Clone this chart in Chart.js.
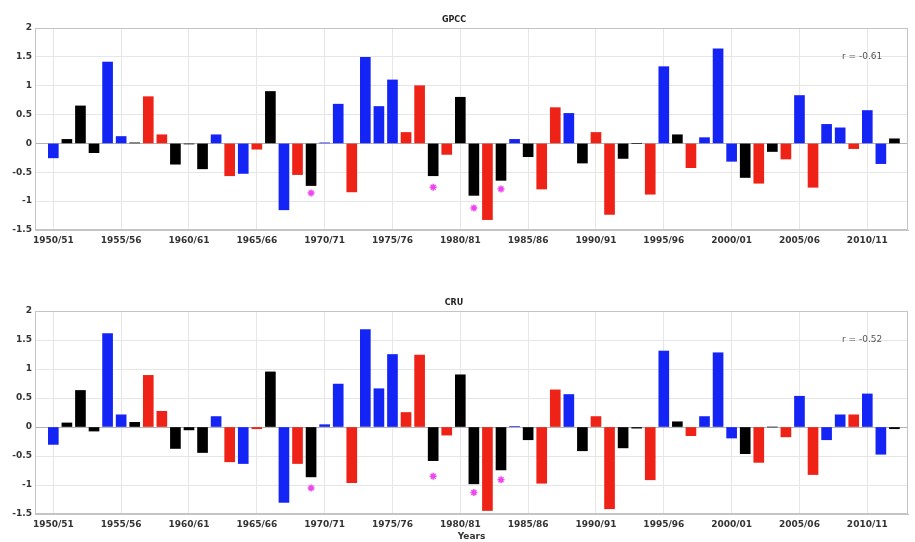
<!DOCTYPE html>
<html>
<head>
<meta charset="utf-8">
<script src="https://cdn.jsdelivr.net/npm/chart.js@4"></script>
<style>
  body { margin: 0; background: #fff; }
  canvas { position: absolute; left: 0; }
</style>
</head>
<body>
<canvas id="gpcc" width="915" height="262" style="top:0"></canvas>
<canvas id="cru" width="915" height="262" style="top:280px"></canvas>
<script>
// season index 0 = 1950/51
const firstSeason = 1950

// L = blue, N = black, E = red
const phase = [
  'L','N','N','N','L','L','N','E','E','N',
  'N','N','L','E','L','E','N','L','E','N',
  'L','L','E','L','L','L','E','E','N','E',
  'N','N','E','N','L','N','E','E','L','N',
  'E','E','N','N','E','L','N','E','L','L',
  'L','N','E','N','E','L','E','L','L','E',
  'L','L','N'
]

const gpccValues = [
  -0.25, 0.07, 0.65, -0.16, 1.41, 0.12, 0.01, 0.81, 0.15, -0.36,
  -0.01, -0.44, 0.15, -0.56, -0.52, -0.10, 0.90, -1.15, -0.54, -0.73,
  0.01, 0.68, -0.84, 1.49, 0.64, 1.10, 0.19, 1.00, -0.56, -0.19,
  0.80, -0.90, -1.32, -0.64, 0.07, -0.23, -0.79, 0.62, 0.52, -0.34,
  0.19, -1.23, -0.26, 0.00, -0.88, 1.33, 0.15, -0.42, 0.10, 1.64,
  -0.31, -0.59, -0.69, -0.14, -0.27, 0.83, -0.76, 0.33, 0.27, -0.09,
  0.57, -0.35, 0.08
]

const cruValues = [
  -0.30, 0.07, 0.63, -0.07, 1.61, 0.21, 0.08, 0.89, 0.27, -0.37,
  -0.05, -0.44, 0.18, -0.60, -0.63, -0.03, 0.95, -1.30, -0.63, -0.86,
  0.04, 0.74, -0.96, 1.68, 0.66, 1.25, 0.25, 1.24, -0.58, -0.14,
  0.90, -0.98, -1.44, -0.74, 0.01, -0.22, -0.97, 0.64, 0.56, -0.41,
  0.18, -1.41, -0.36, -0.02, -0.91, 1.31, 0.09, -0.15, 0.18, 1.28,
  -0.19, -0.46, -0.61, 0.00, -0.17, 0.53, -0.82, -0.22, 0.21, 0.21,
  0.57, -0.47, -0.03
]

// magenta asterisks
const starSeasons = [1969, 1978, 1981, 1983]
const gpccStars = [-0.86, -0.76, -1.12, -0.79]
const cruStars = [-1.05, -0.85, -1.13, -0.91]

const tickLabels = ['1950/51', '1955/56', '1960/61', '1965/66', '1970/71', '1975/76',
  '1980/81', '1985/86', '1990/91', '1995/96', '2000/01', '2005/06', '2010/11']

const phaseColors = { L: 'rgb(20,36,245)', N: '#000000', E: 'rgb(238,34,22)' }
const gridColor = '#e6e6e6'
const tickFont = { family: 'DejaVu Sans', size: 9, weight: 'bold' }

const frame = {
  id: 'frame',
  afterDraw(chart) {
    const a = chart.chartArea
    const ctx = chart.ctx
    ctx.save()
    ctx.strokeStyle = '#c4c4c4'
    ctx.lineWidth = 1
    ctx.strokeRect(a.left + 0.5, a.top + 0.5, a.right - a.left - 1, a.bottom - a.top - 1)
    ctx.restore()
  }
}

const corrLabel = {
  id: 'corrLabel',
  afterDatasetsDraw(chart, args, opts) {
    const ctx = chart.ctx
    ctx.save()
    ctx.font = '9px "DejaVu Sans"'
    ctx.fillStyle = '#555'
    ctx.textAlign = 'right'
    ctx.textBaseline = 'middle'
    ctx.fillText(opts.text, chart.scales.x.getPixelForValue(opts.x), chart.scales.y.getPixelForValue(opts.y))
    ctx.restore()
  }
}

function makePanel(canvas, title, values, stars, rText, titlePad, xHeight, showYears) {
  let bars = values.map(function(v, i) {
    return { x: firstSeason + i, y: v }
  })
  let starPoints = stars.map(function(v, i) {
    return { x: starSeasons[i], y: v }
  })
  return new Chart(canvas.getContext('2d'), {
    type: 'bar',
    data: {
      datasets: [{
        type: 'bar',
        data: bars,
        backgroundColor: phase.map(p => phaseColors[p]),
        barThickness: 10,
        borderWidth: 0
      }, {
        type: 'scatter',
        data: starPoints,
        pointStyle: 'star',
        radius: 3.5,
        borderColor: '#ee44ee',
        backgroundColor: '#ee44ee',
        borderWidth: 1.5
      }]
    },
    options: {
      responsive: false,
      animation: false,
      layout: { padding: { left: 0, right: 7, top: 0, bottom: 0 } },
      plugins: {
        legend: { display: false },
        tooltip: { enabled: false },
        title: {
          display: true,
          text: title,
          color: '#222',
          font: { family: 'DejaVu Sans', size: 8, weight: 'bold' },
          padding: titlePad
        },
        corrLabel: { text: rText, x: 2011.1, y: 1.5 }
      },
      scales: {
        x: {
          type: 'linear',
          min: 1948.65,
          max: 2013,
          offset: false,
          grid: { color: gridColor, drawTicks: false, offset: false },
          border: { color: '#c4c4c4' },
          ticks: {
            stepSize: 5,
            includeBounds: false,
            autoSkip: false,
            maxRotation: 0,
            padding: 5,
            color: '#333',
            font: tickFont,
            callback: v => tickLabels[(v - firstSeason) / 5]
          },
          title: {
            display: showYears,
            text: 'Years',
            color: '#333',
            font: tickFont,
            padding: 0
          },
          afterFit: s => { s.height = xHeight }
        },
        y: {
          min: -1.5,
          max: 2,
          grid: {
            color: c => c.tick && c.tick.value === 0 ? '#b4b4b4' : gridColor,
            drawTicks: false
          },
          border: { color: '#c4c4c4' },
          ticks: {
            stepSize: 0.5,
            padding: 3,
            color: '#333',
            font: tickFont,
            callback: v => String(v)
          },
          afterFit: s => { s.width = 35 }
        }
      }
    },
    plugins: [frame, corrLabel]
  })
}

makePanel(document.getElementById('gpcc'), 'GPCC', gpccValues, gpccStars, 'r = -0.61',
  { top: 15, bottom: 3.4 }, 32, false)
makePanel(document.getElementById('cru'), 'CRU', cruValues, cruStars, 'r = -0.52',
  { top: 18, bottom: 3.4 }, 28, true)
</script>
</body>
</html>
